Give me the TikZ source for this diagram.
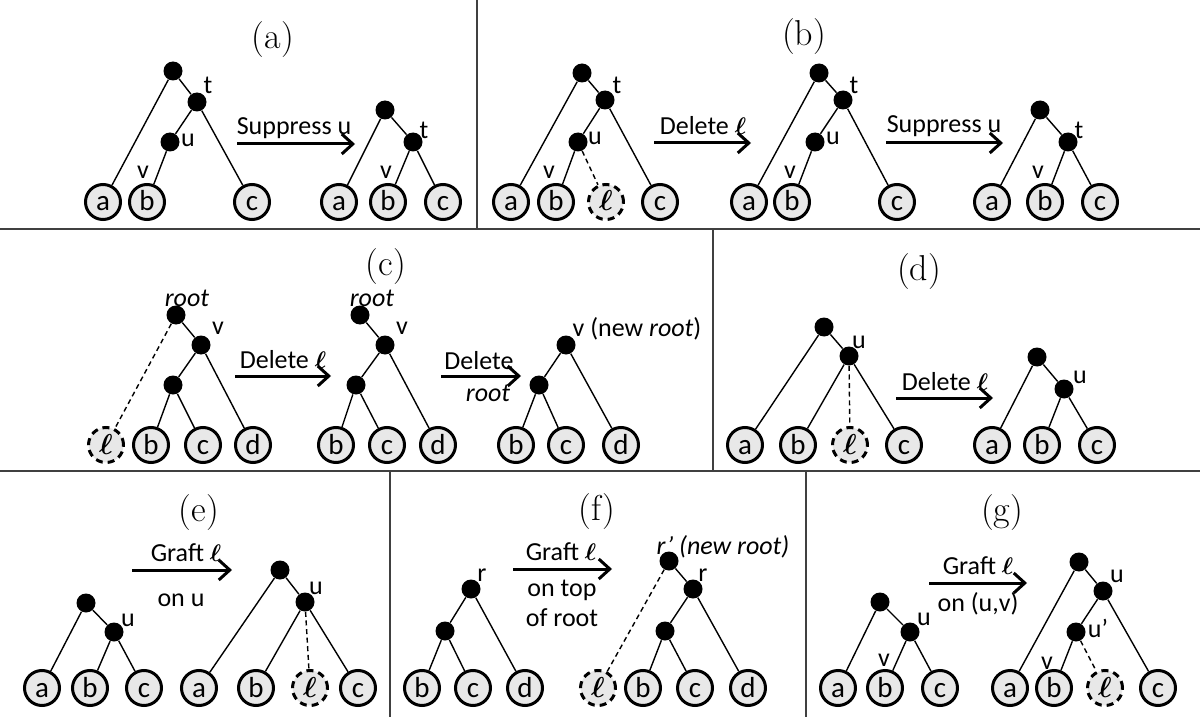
\documentclass[tikz,border=0pt]{standalone}
\usepackage{fontspec}
\usepackage{bm}
\newfontfamily\calfont{Carlito}
\usetikzlibrary{arrows.meta}
\tikzset{
  vtx/.style={circle, fill=black, minimum size=9.5pt, inner sep=0pt},
  leafnode/.style={circle, draw, line width=1.5pt, fill=black!9, minimum size=17.5pt, inner sep=0pt,
    text height=9pt, text depth=0pt, font=\calfont\fontsize{14.5}{14.5}\selectfont},
  gonenode/.style={leafnode, dash pattern=on 3.5pt off 2.5pt},
  branch/.style={line width=0.7pt},
  cutbranch/.style={branch, dash pattern=on 2.5pt off 1.8pt},
  move/.style={line width=1.5pt, -{Straight Barb[length=5.5pt,width=10pt]}},
  lbl/.style={inner sep=0pt, font=\calfont\fontsize{13}{13}\selectfont},
  paneltitle/.style={inner sep=0pt, font=\fontsize{18}{22}\selectfont},
  divider/.style={line width=1pt, draw=black!75}
}
\def\lf{$\bm{\ell}$}

\begin{document}
\begin{tikzpicture}[x=0.5pt, y=-0.5pt]
			%%%%% START %%%%%
			\useasboundingbox (0,0) rectangle (1200,717);
			
			\draw[divider] (0,229) -- (1200,229);
			\draw[divider] (0,471) -- (1200,471);
			\draw[divider] (477,0) -- (477,229);
			\draw[divider] (713,229) -- (713,471);
			\draw[divider] (390,471) -- (390,717);
			\draw[divider] (806,471) -- (806,717);
			
			%%%%% (a) %%%%%
			\node[paneltitle] (ta) at (273,40) {(a)};
			
			\node[vtx] (a1r) at (173,71) {};
			\node[vtx] (a1t) at (197,102) {};
			\node[vtx] (a1u) at (170,142) {};
			\node[leafnode] (a1a) at (103,202) {a};
			\node[leafnode] (a1b) at (147,202) {b};
			\node[leafnode] (a1c) at (252,202) {c};
			\draw[branch] (a1r) -- (a1a);
			\draw[branch] (a1r) -- (a1t);
			\draw[branch] (a1t) -- (a1u);
			\draw[branch] (a1u) -- (a1b);
			\draw[branch] (a1t) -- (a1c);
			\node[lbl] (a1tl) at (208,85) {t};
			\node[lbl] (a1ul) at (188,140) {u};
			\node[lbl] (a1vl) at (143,172) {v};
			
			\coordinate (a1s) at (237,144);
			\coordinate (a1e) at (355,144);
			\draw[move] (a1s) -- (a1e);
			\node[lbl] (a1m) at (294,128) {Suppress u};
			
			\node[vtx] (a2r) at (385,110) {};
			\node[vtx] (a2t) at (413,142) {};
			\node[leafnode] (a2a) at (339,202) {a};
			\node[leafnode] (a2b) at (388,202) {b};
			\node[leafnode] (a2c) at (443,202) {c};
			\draw[branch] (a2r) -- (a2a);
			\draw[branch] (a2r) -- (a2t);
			\draw[branch] (a2t) -- (a2b);
			\draw[branch] (a2t) -- (a2c);
			\node[lbl] (a2tl) at (424,130) {t};
			\node[lbl] (a2vl) at (386,172) {v};
			
			%%%%% (b) %%%%%
			\node[paneltitle] (tb) at (804,37) {(b)};
			
			\node[vtx] (b1r) at (582,73) {};
			\node[vtx] (b1t) at (605,100) {};
			\node[vtx] (b1u) at (578,142) {};
			\node[leafnode] (b1a) at (511,202) {a};
			\node[leafnode] (b1b) at (556,202) {b};
			\node[gonenode] (b1l) at (606,202) {\lf};
			\node[leafnode] (b1c) at (660,202) {c};
			\draw[branch] (b1r) -- (b1a);
			\draw[branch] (b1r) -- (b1t);
			\draw[branch] (b1t) -- (b1u);
			\draw[branch] (b1u) -- (b1b);
			\draw[cutbranch] (b1u) -- (b1l);
			\draw[branch] (b1t) -- (b1c);
			\node[lbl] (b1tl) at (617,85) {t};
			\node[lbl] (b1ul) at (595,138) {u};
			\node[lbl] (b1vl) at (549,172) {v};
			
			\coordinate (b1s) at (654,143);
			\coordinate (b1e) at (751,143);
			\draw[move] (b1s) -- (b1e);
			\node[lbl] (b1m) at (703,126) {Delete \lf};
			
			\node[vtx] (b2r) at (819,73) {};
			\node[vtx] (b2t) at (843,100) {};
			\node[vtx] (b2u) at (815,142) {};
			\node[leafnode] (b2a) at (749,202) {a};
			\node[leafnode] (b2b) at (792,202) {b};
			\node[leafnode] (b2c) at (897,202) {c};
			\draw[branch] (b2r) -- (b2a);
			\draw[branch] (b2r) -- (b2t);
			\draw[branch] (b2t) -- (b2u);
			\draw[branch] (b2u) -- (b2b);
			\draw[branch] (b2t) -- (b2c);
			\node[lbl] (b2tl) at (854,85) {t};
			\node[lbl] (b2ul) at (833,138) {u};
			\node[lbl] (b2vl) at (790,172) {v};
			
			\coordinate (b2s) at (886,143);
			\coordinate (b2e) at (1003,143);
			\draw[move] (b2s) -- (b2e);
			\node[lbl] (b2m) at (944,126) {Suppress u};
			
			\node[vtx] (b3r) at (1040,110) {};
			\node[vtx] (b3t) at (1068,142) {};
			\node[leafnode] (b3a) at (992,202) {a};
			\node[leafnode] (b3b) at (1045,202) {b};
			\node[leafnode] (b3c) at (1100,202) {c};
			\draw[branch] (b3r) -- (b3a);
			\draw[branch] (b3r) -- (b3t);
			\draw[branch] (b3t) -- (b3b);
			\draw[branch] (b3t) -- (b3c);
			\node[lbl] (b3tl) at (1079,130) {t};
			\node[lbl] (b3vl) at (1038,172) {v};
			
			%%%%% (c) %%%%%
			\node[paneltitle] (tc) at (386,267) {(c)};
			
			\node[vtx] (c1r) at (176,315) {};
			\node[vtx] (c1v) at (201,345) {};
			\node[vtx] (c1i) at (173,385) {};
			\node[gonenode] (c1l) at (106,445) {\lf};
			\node[leafnode] (c1b) at (151,445) {b};
			\node[leafnode] (c1c) at (203,445) {c};
			\node[leafnode] (c1d) at (253,445) {d};
			\draw[branch] (c1r) -- (c1v);
			\draw[branch] (c1v) -- (c1i);
			\draw[branch] (c1v) -- (c1d);
			\draw[branch] (c1i) -- (c1b);
			\draw[branch] (c1i) -- (c1c);
			\draw[cutbranch] (c1r) -- (c1l);
			\node[lbl] (c1rl) at (187,298) {\textit{root}};
			\node[lbl] (c1vl) at (218,328) {v};
			
			\coordinate (c1s) at (235,376);
			\coordinate (c1e) at (331,376);
			\draw[move] (c1s) -- (c1e);
			\node[lbl] (c1m) at (283,360) {Delete \lf};
			
			\node[vtx] (c2r) at (360,315) {};
			\node[vtx] (c2v) at (385,345) {};
			\node[vtx] (c2i) at (356,385) {};
			\node[leafnode] (c2b) at (336,445) {b};
			\node[leafnode] (c2c) at (387,445) {c};
			\node[leafnode] (c2d) at (438,445) {d};
			\draw[branch] (c2r) -- (c2v);
			\draw[branch] (c2v) -- (c2i);
			\draw[branch] (c2v) -- (c2d);
			\draw[branch] (c2i) -- (c2b);
			\draw[branch] (c2i) -- (c2c);
			\node[lbl] (c2rl) at (372,298) {\textit{root}};
			\node[lbl] (c2vl) at (402,328) {v};
			
			\coordinate (c2s) at (441,376);
			\coordinate (c2e) at (521,376);
			\draw[move] (c2s) -- (c2e);
			\node[lbl] (c2m) at (479,361) {Delete};
			\node[lbl] (c2n) at (488,393) {\textit{root}};
			
			\node[vtx] (c3v) at (566,345) {};
			\node[vtx] (c3i) at (539,385) {};
			\node[leafnode] (c3b) at (516,445) {b};
			\node[leafnode] (c3c) at (566,445) {c};
			\node[leafnode] (c3d) at (621,445) {d};
			\draw[branch] (c3v) -- (c3i);
			\draw[branch] (c3v) -- (c3d);
			\draw[branch] (c3i) -- (c3b);
			\draw[branch] (c3i) -- (c3c);
			\node[lbl] (c3vl) at (637,329) {v (new \textit{root})};
			
			%%%%% (d) %%%%%
			\node[paneltitle] (td) at (919,272) {(d)};
			
			\node[vtx] (d1r) at (824,327) {};
			\node[vtx] (d1u) at (849,356) {};
			\node[leafnode] (d1a) at (745,445) {a};
			\node[leafnode] (d1b) at (798,445) {b};
			\node[gonenode] (d1l) at (850,445) {\lf};
			\node[leafnode] (d1c) at (904,445) {c};
			\draw[branch] (d1r) -- (d1a);
			\draw[branch] (d1r) -- (d1u);
			\draw[branch] (d1u) -- (d1b);
			\draw[cutbranch] (d1u) -- (d1l);
			\draw[branch] (d1u) -- (d1c);
			\node[lbl] (d1ul) at (859,342) {u};
			
			\coordinate (d1s) at (896,398);
			\coordinate (d1e) at (993,398);
			\draw[move] (d1s) -- (d1e);
			\node[lbl] (d1m) at (945,382) {Delete \lf};
			
			\node[vtx] (d2r) at (1037,357) {};
			\node[vtx] (d2u) at (1064,389) {};
			\node[leafnode] (d2a) at (992,445) {a};
			\node[leafnode] (d2b) at (1042,445) {b};
			\node[leafnode] (d2c) at (1097,445) {c};
			\draw[branch] (d2r) -- (d2a);
			\draw[branch] (d2r) -- (d2u);
			\draw[branch] (d2u) -- (d2b);
			\draw[branch] (d2u) -- (d2c);
			\node[lbl] (d2ul) at (1080,377) {u};
			
			%%%%% (e) %%%%%
			\node[paneltitle] (te) at (199,513) {(e)};
			
			\node[vtx] (e1r) at (86,603) {};
			\node[vtx] (e1u) at (114,632) {};
			\node[leafnode] (e1a) at (42,688) {a};
			\node[leafnode] (e1b) at (90,688) {b};
			\node[leafnode] (e1c) at (144,688) {c};
			\draw[branch] (e1r) -- (e1a);
			\draw[branch] (e1r) -- (e1u);
			\draw[branch] (e1u) -- (e1b);
			\draw[branch] (e1u) -- (e1c);
			\node[lbl] (e1ul) at (128,620) {u};
			
			\coordinate (e1s) at (132,570);
			\coordinate (e1e) at (232,570);
			\draw[move] (e1s) -- (e1e);
			\node[lbl] (e1m) at (186,553) {Graft \lf};
			\node[lbl] (e1n) at (181,600) {on u};
			
			\node[vtx] (e2r) at (280,570) {};
			\node[vtx] (e2u) at (305,602) {};
			\node[leafnode] (e2a) at (199,688) {a};
			\node[leafnode] (e2b) at (256,688) {b};
			\node[gonenode] (e2l) at (310,688) {\lf};
			\node[leafnode] (e2c) at (358,688) {c};
			\draw[branch] (e2r) -- (e2a);
			\draw[branch] (e2r) -- (e2u);
			\draw[branch] (e2u) -- (e2b);
			\draw[cutbranch] (e2u) -- (e2l);
			\draw[branch] (e2u) -- (e2c);
			\node[lbl] (e2ul) at (316,588) {u};
			
			%%%%% (f) %%%%%
			\node[paneltitle] (tf) at (597,512) {(f)};
			
			\node[vtx] (f1r) at (471,589) {};
			\node[vtx] (f1i) at (445,631) {};
			\node[leafnode] (f1b) at (422,688) {b};
			\node[leafnode] (f1c) at (473,688) {c};
			\node[leafnode] (f1d) at (525,688) {d};
			\draw[branch] (f1r) -- (f1i);
			\draw[branch] (f1r) -- (f1d);
			\draw[branch] (f1i) -- (f1b);
			\draw[branch] (f1i) -- (f1c);
			\node[lbl] (f1rl) at (482,575) {r};
			
			\coordinate (f1s) at (513,569);
			\coordinate (f1e) at (612,569);
			\draw[move] (f1s) -- (f1e);
			\node[lbl] (f1m) at (561,552) {Graft \lf};
			\node[lbl] (f1n) at (562,590) {on top};
			\node[lbl] (f1o) at (562,618) {of root};
			
			\node[vtx] (f2n) at (669,561) {};
			\node[vtx] (f2r) at (693,589) {};
			\node[vtx] (f2i) at (665,631) {};
			\node[gonenode] (f2l) at (598,688) {\lf};
			\node[leafnode] (f2b) at (643,688) {b};
			\node[leafnode] (f2c) at (695,688) {c};
			\node[leafnode] (f2d) at (748,688) {d};
			\draw[branch] (f2n) -- (f2r);
			\draw[cutbranch] (f2n) -- (f2l);
			\draw[branch] (f2r) -- (f2i);
			\draw[branch] (f2r) -- (f2d);
			\draw[branch] (f2i) -- (f2b);
			\draw[branch] (f2i) -- (f2c);
			\node[lbl] (f2nl) at (723,547) {\textit{r’ (new root)}};
			\node[lbl] (f2rl) at (703,575) {r};
			
			%%%%% (g) %%%%%
			\node[paneltitle] (tg) at (1002,513) {(g)};
			
			\node[vtx] (g1r) at (880,602) {};
			\node[vtx] (g1u) at (910,632) {};
			\node[leafnode] (g1a) at (838,688) {a};
			\node[leafnode] (g1b) at (885,688) {b};
			\node[leafnode] (g1c) at (940,688) {c};
			\draw[branch] (g1r) -- (g1a);
			\draw[branch] (g1r) -- (g1u);
			\draw[branch] (g1u) -- (g1b);
			\draw[branch] (g1u) -- (g1c);
			\node[lbl] (g1ul) at (924,619) {u};
			\node[lbl] (g1vl) at (884,660) {v};
			
			\coordinate (g1s) at (929,583);
			\coordinate (g1e) at (1027,583);
			\draw[move] (g1s) -- (g1e);
			\node[lbl] (g1m) at (978,566) {Graft \lf};
			\node[lbl] (g1n) at (978,604) {on (u,v)};
			
			\node[vtx] (g2r) at (1079,562) {};
			\node[vtx] (g2u) at (1103,591) {};
			\node[vtx] (g2p) at (1076,632) {};
			\node[leafnode] (g2a) at (1010,688) {a};
			\node[leafnode] (g2b) at (1054,688) {b};
			\node[gonenode] (g2l) at (1105,688) {\lf};
			\node[leafnode] (g2c) at (1158,688) {c};
			\draw[branch] (g2r) -- (g2a);
			\draw[branch] (g2r) -- (g2u);
			\draw[branch] (g2u) -- (g2p);
			\draw[branch] (g2u) -- (g2c);
			\draw[branch] (g2p) -- (g2b);
			\draw[cutbranch] (g2p) -- (g2l);
			\node[lbl] (g2ul) at (1117,576) {u};
			\node[lbl] (g2pl) at (1098,628) {u’};
			\node[lbl] (g2vl) at (1047,663) {v};
			
			%%%%% END %%%%%
\end{tikzpicture}
\end{document}
